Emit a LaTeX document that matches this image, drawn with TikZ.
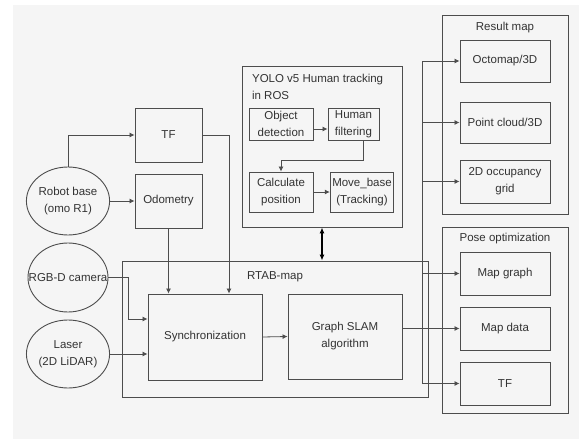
\documentclass[tikz,border=0pt]{standalone}
\usepackage{fontspec}
\setmainfont{Liberation Sans}
\usetikzlibrary{arrows.meta,shapes.geometric}
\definecolor{bgc}{HTML}{F5F5F5}
\definecolor{linec}{HTML}{4D4D4D}
\definecolor{txtc}{HTML}{333333}
\begin{document}
\begin{tikzpicture}[x=1pt, y=-1pt,
        every node/.style={text=txtc, font=\fontsize{11.5}{17}\selectfont},
        box/.style={draw=linec, line width=0.9pt, align=center, inner sep=2pt},
        group/.style={draw=linec, line width=0.9pt, inner sep=0pt},
        src/.style={draw=linec, line width=0.9pt, ellipse, align=center, inner sep=0pt, minimum width=80pt, minimum height=68pt},
        arr/.style={draw=linec, line width=0.8pt, -{Latex[length=5pt,width=5pt]}},
        dblarr/.style={draw=black, line width=1.1pt, {Latex[length=6pt,width=5pt]}-{Latex[length=6pt,width=5pt]}}]
    \useasboundingbox (0,0) rectangle (579,439);
    \fill[bgc] (13,5) rectangle (579,439);

    % groups
    \node[group, minimum width=160pt, minimum height=161pt] (yolo) at (322,146.5) {};
    \node[group, minimum width=126pt, minimum height=199pt] (result) at (505,114.5) {};
    \node[group, minimum width=126pt, minimum height=186pt] (pose) at (505,320) {};
    \node[group, minimum width=306pt, minimum height=136pt] (rtab) at (275,329) {};

    \node[anchor=north west, align=left] (yolotitle) at ([xshift=7pt,yshift=-5pt]yolo.north west) {YOLO v5 Human tracking\\in ROS};
    \node (resulttitle) at (505,28) {Result map};
    \node (posetitle) at (505,239) {Pose optimization};
    \node (rtabtitle) at (275,277) {RTAB-map};

    % inputs
    \node[src] (robot) at (68,201) {Robot base\\(omo R1)};
    \node[src, minimum height=69pt, inner xsep=-16pt] (rgbd) at (68,277.5) {RGB-D camera};
    \node[src] (laser) at (68,354) {Laser\\(2D LiDAR)};

    \node[box, minimum width=67pt, minimum height=54pt] (tf) at (168.5,135) {TF};
    \node[box, minimum width=67pt, minimum height=54pt] (odom) at (168.5,201) {Odometry};

    % human tracking
    \node[box, minimum width=64pt, minimum height=32pt] (objdet) at (281,124) {Object\\detection};
    \node[box, minimum width=51pt, minimum height=32pt] (filt) at (353.5,124) {Human\\filtering};
    \node[box, minimum width=64pt, minimum height=40pt] (calc) at (281,192) {Calculate\\position};
    \node[box, minimum width=60pt, minimum height=40pt] (move) at (362,192) {Move\_base\\(Tracking)};

    % rtab-map
    \node[box, minimum width=114pt, minimum height=86pt] (sync) at (205,337) {Synchronization};
    \node[box, minimum width=114pt, minimum height=85pt] (slam) at (345,336.5) {Graph SLAM\\algorithm};

    % outputs
    \node[box, minimum width=90pt, minimum height=42pt] (octo) at (505,61) {Octomap/3D};
    \node[box, minimum width=90pt, minimum height=41pt] (pcl) at (505,122.5) {Point cloud/3D};
    \node[box, minimum width=90pt, minimum height=43pt] (grid) at (505,181.5) {2D occupancy\\grid};
    \node[box, minimum width=90pt, minimum height=43pt] (mapgraph) at (505,273.5) {Map graph};
    \node[box, minimum width=90pt, minimum height=43pt] (mapdata) at (505,328.5) {Map data};
    \node[box, minimum width=90pt, minimum height=43pt] (tfout) at (505,383.5) {TF};

    \coordinate (bus) at (422,0);
    \coordinate (dbl) at (322,0);

    % connectors
    \draw[arr] (robot.north) |- (tf.west);
    \draw[arr] (robot.east) -- (odom.west);
    \draw[arr] (tf.east) -| ([xshift=24pt]sync.north);
    \draw[arr] (odom.south) -- (odom.south |- sync.north);
    \draw[arr] (rgbd.east) -- ++(20,0) |- ([yshift=18pt]sync.west);
    \draw[arr] (laser.east) -- (laser.east -| sync.west);
    \draw[arr] (sync.east) -- (slam.west);
    \draw[arr] (slam.east |- mapdata.west) -- (mapdata.west);

    \draw[arr] ([yshift=-5pt]objdet.east) -- ([yshift=-5pt]filt.west);
    \draw[arr] ([xshift=9.5pt]filt.south) -- ++(0,20) -| (calc.north);
    \draw[arr] (calc.east) -- (move.west);

    \draw[dblarr] (yolo.south -| dbl) -- (rtab.north -| dbl);

    \draw[linec, line width=0.8pt] (bus |- octo.west) -- (bus |- tfout.west);
    \foreach \t in {octo,pcl,grid,mapgraph,tfout} {
        \draw[arr] (bus |- \t.west) -- (\t.west);
    }
\end{tikzpicture}
\end{document}
